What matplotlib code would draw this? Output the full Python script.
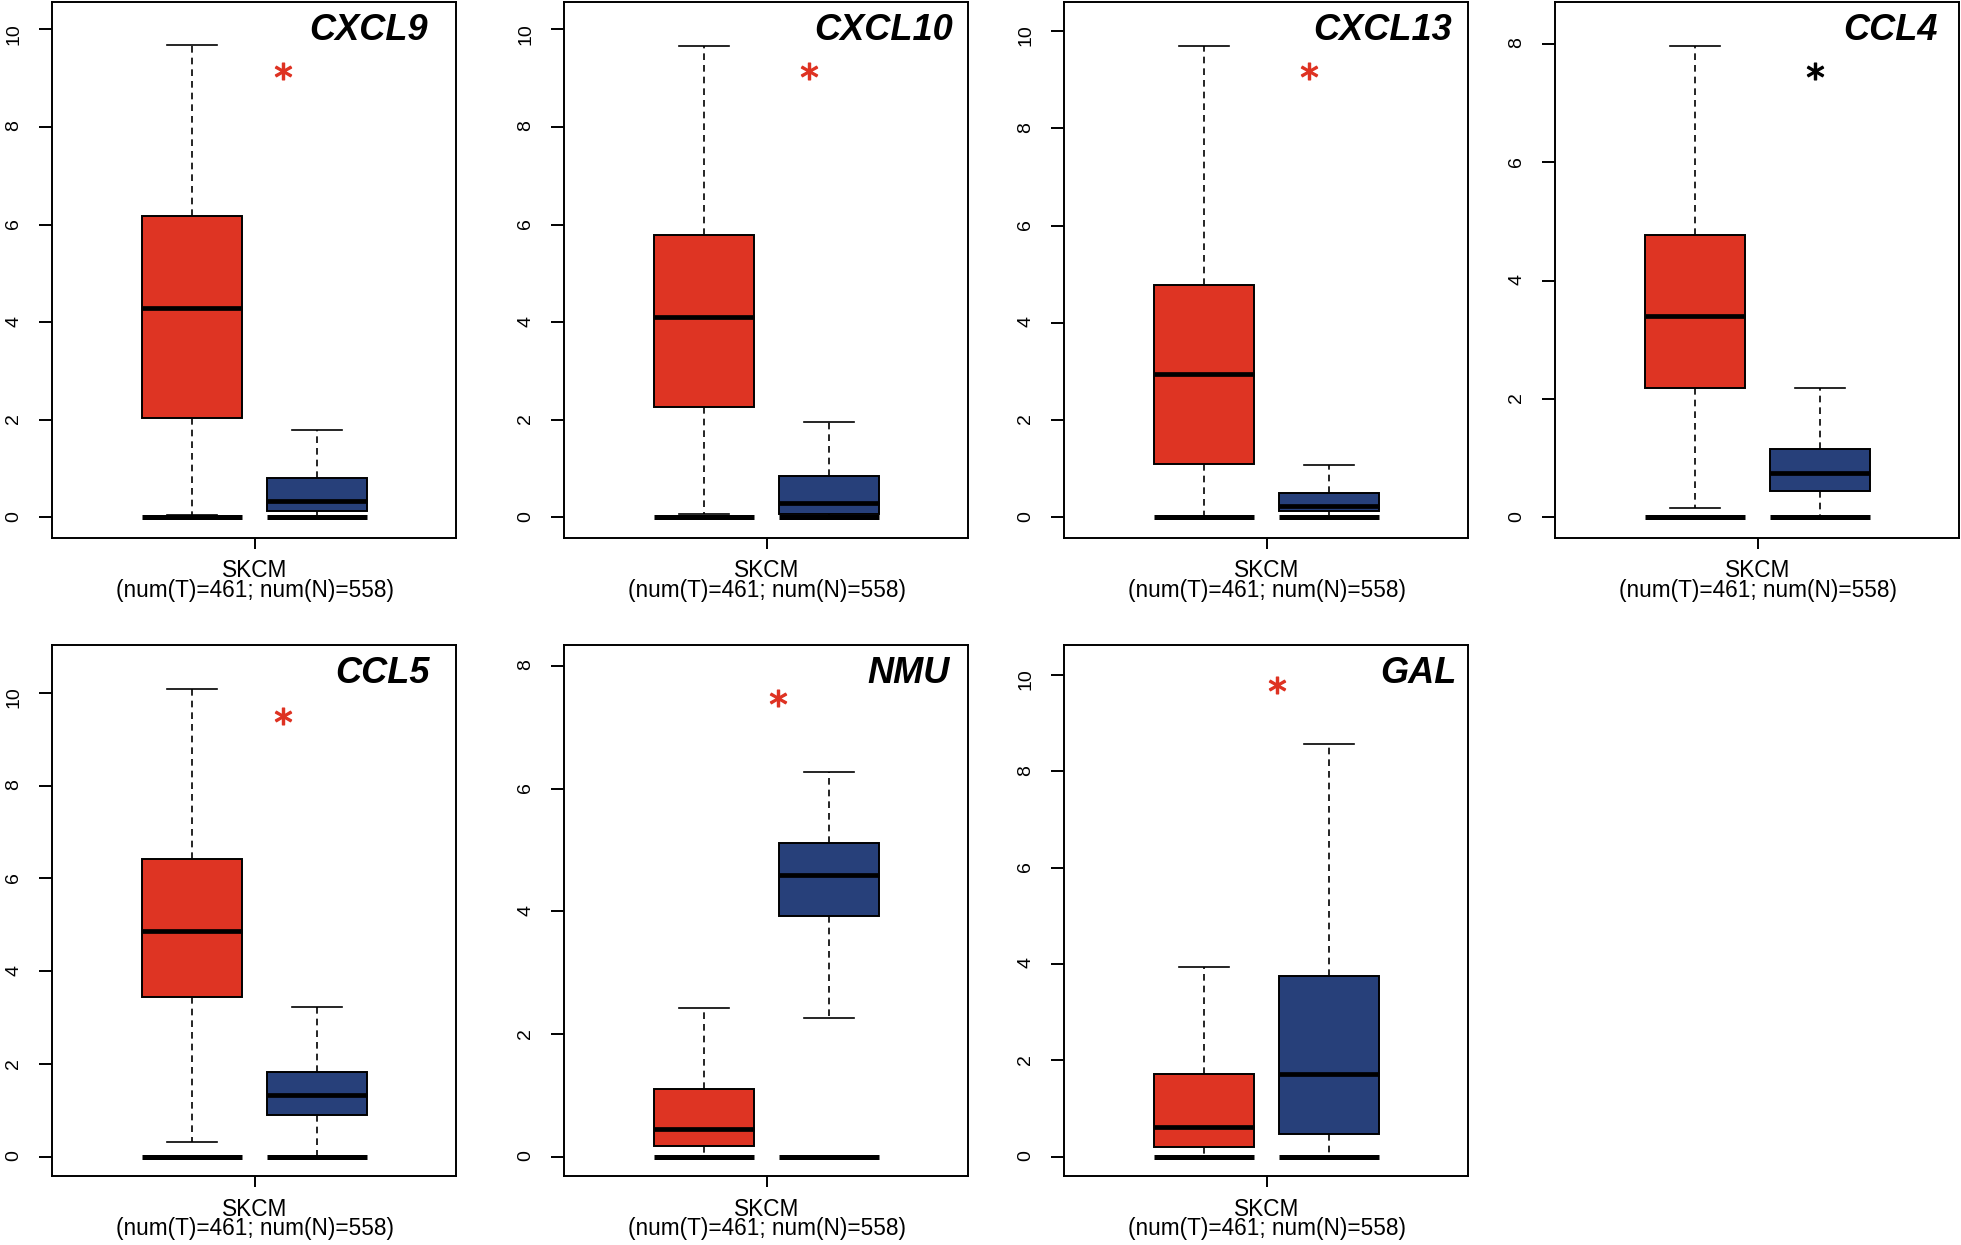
import matplotlib.pyplot as plt
import numpy as np

plt.rcParams['font.family'] = ['Liberation Sans', 'DejaVu Sans']

genes = ['CXCL9', 'CXCL10', 'CXCL13', 'CCL4', 'CCL5', 'NMU', 'GAL']
cancer = 'SKCM'
n_tumor = 461
n_normal = 558

# whislo, q1, median, q3, whishi
tumor = [
    [0.06, 2.04, 4.30, 6.18, 9.67],
    [0.08, 2.27, 4.11, 5.79, 9.66],
    [0.00, 1.09, 2.94, 4.77, 9.70],
    [0.16, 2.18, 3.40, 4.78, 7.97],
    [0.32, 3.45, 4.87, 6.42, 10.09],
    [0.00, 0.18, 0.46, 1.11, 2.42],
    [0.00, 0.20, 0.61, 1.71, 3.94],
]
normal = [
    [0.00, 0.14, 0.34, 0.80, 1.79],
    [0.00, 0.08, 0.30, 0.86, 1.96],
    [0.00, 0.12, 0.24, 0.50, 1.08],
    [0.00, 0.45, 0.75, 1.15, 2.18],
    [0.00, 0.90, 1.34, 1.84, 3.23],
    [2.27, 3.92, 4.59, 5.12, 6.27],
    [0.00, 0.48, 1.71, 3.76, 8.57],
]
# points piled at zero
zero_points = [0.0, 0.0]

star_x = [1.73, 1.84, 1.84, 1.96, 1.73, 1.59, 1.58]
star_y = [9.15, 9.14, 9.19, 7.54, 9.50, 7.48, 9.80]
star_colors = ['#DE3222', '#DE3222', '#DE3222', 'black', '#DE3222', '#DE3222', '#DE3222']

box_colors = ['#DE3423', '#27407A']

# layout (pixels of the 1961x1245 figure)
W, H = 1961, 1245
lefts = [52, 564, 1064, 1555, 52, 564, 1064]
tops = [2, 2, 2, 2, 645, 645, 645]
heights = [535.5] * 4 + [531] * 3
ylims = [(-0.41, 10.56), (-0.41, 10.56), (-0.415, 10.6), (-0.34, 8.71),
         (-0.41, 11.03), (-0.31, 8.34), (-0.40, 10.62)]
title_gap = [28, 15, 16, 21, 26, 18, 11]
px = 0.72  # points per pixel at dpi 100

fig = plt.figure(figsize=(W / 100, H / 100), dpi=100)

for i, g in enumerate(genes):
    ax = fig.add_axes([lefts[i] / W, 1 - (tops[i] + heights[i]) / H,
                       404 / W, heights[i] / H])
    stats = []
    for vals, z in zip([tumor[i], normal[i]], zero_points):
        lo, q1, med, q3, hi = vals
        stats.append(dict(whislo=lo, q1=q1, med=med, q3=q3, whishi=hi, fliers=[z]))
    bp = ax.bxp(stats, positions=[1, 2], widths=0.8, patch_artist=True,
                manage_ticks=False,
                boxprops=dict(linewidth=1.4, edgecolor='black'),
                medianprops=dict(color='black', linewidth=3.4, solid_capstyle='butt'),
                whiskerprops=dict(color='black', linewidth=1.2, linestyle=(0, (4, 3))),
                capprops=dict(color='black', linewidth=1.2),
                flierprops=dict(marker='_', markersize=72, markeredgewidth=3.6,
                                markeredgecolor='black'))
    for patch, c in zip(bp['boxes'], box_colors):
        patch.set_facecolor(c)

    ax.plot([star_x[i]], [star_y[i]], marker='$*$', markersize=12,
            color=star_colors[i], linestyle='none')

    ax.set_xlim(-0.12, 3.11)
    ax.set_ylim(*ylims[i])
    ax.set_yticks(np.arange(0, ylims[i][1], 2))
    ax.set_yticklabels([str(int(t)) for t in np.arange(0, ylims[i][1], 2)])
    ax.set_xticks([1.5])
    ax.set_xticklabels([])
    ax.tick_params(axis='y', direction='out', length=9.4, width=1.4, pad=12,
                   labelsize=14, labelrotation=90)
    ax.tick_params(axis='x', direction='out', length=8, width=1.4)
    for s in ax.spines.values():
        s.set_linewidth(1.4)

    ax.annotate(g, xy=(1, 1), xycoords='axes fraction',
                xytext=(-title_gap[i] * px, -38 * px), textcoords='offset points',
                ha='right', va='baseline', fontsize=26, fontweight='bold',
                fontstyle='italic')
    ax.annotate(cancer, xy=(1.5, 0), xycoords=('data', 'axes fraction'),
                xytext=(0, -39.5 * px), textcoords='offset points',
                ha='center', va='baseline', fontsize=16.3)
    ax.annotate('(num(T)=%d; num(N)=%d)' % (n_tumor, n_normal), xy=(1.5, 0),
                xycoords=('data', 'axes fraction'),
                xytext=(0, -59.5 * px), textcoords='offset points',
                ha='center', va='baseline', fontsize=16.3)

fig.savefig('out.png', dpi=100)
